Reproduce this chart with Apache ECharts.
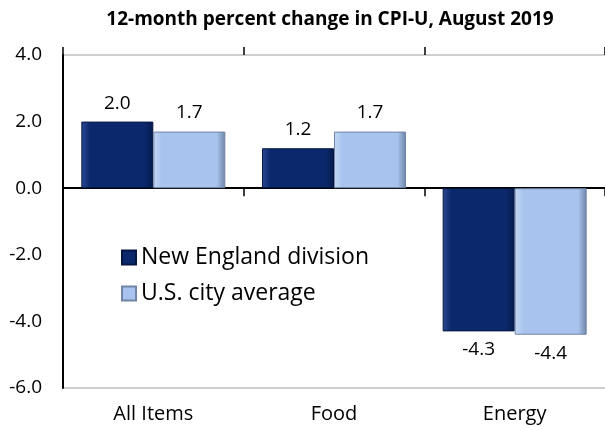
<!DOCTYPE html>
<html>

<head>
    <meta http-equiv="Content-Type" content="text/html; charset=utf-8">
    <title>CPI-U August 2019</title>
    <script src="https://cdn.jsdelivr.net/npm/echarts@6/dist/echarts.min.js"></script>
    <style>
        html, body { margin: 0; padding: 0; background: #fff; }
        #chart { width: 605px; height: 430px; }
    </style>
</head>

<body>
    <div id="chart"></div>
    <script>
    var categories = ["All Items", "Food", "Energy"];
    var seriesNames = ["New England division", "U.S. city average"];
    var newEngland = [2.0, 1.2, -4.3];
    var usAverage = [1.7, 1.7, -4.4];

    var font = "'Open Sans', sans-serif";

    function bevel(edge, mid, dark) {
        return new echarts.graphic.LinearGradient(0, 0, 1, 0, [
            { offset: 0, color: edge },
            { offset: 0.12, color: mid },
            { offset: 0.88, color: mid },
            { offset: 1, color: dark }
        ]);
    }

    function toData(arr) {
        return arr.map(function(v) {
            return { value: v, label: { position: v < 0 ? "bottom" : "top" } };
        });
    }

    function barSeries(name, arr, fill, border) {
        return {
            name: name,
            type: "bar",
            xAxisIndex: 0,
            barWidth: 72,
            barGap: "0%",
            data: toData(arr),
            itemStyle: { color: fill, borderColor: border, borderWidth: 1 },
            label: {
                show: true,
                distance: 9,
                color: "#000",
                fontFamily: font,
                fontSize: 19,
                formatter: function(p) { return p.value.toFixed(1) }
            }
        };
    }

    var chart = echarts.init(document.getElementById("chart"), null, { renderer: "canvas" });
    chart.setOption({
        animation: false,
        title: {
            text: "12-month percent change in CPI-U, August 2019",
            left: 325,
            top: 5,
            textAlign: "center",
            textStyle: { fontFamily: font, fontWeight: "bold", fontSize: 19, color: "#000" }
        },
        legend: {
            orient: "vertical",
            left: 116,
            top: 241,
            itemWidth: 14,
            itemHeight: 14,
            itemGap: 13,
            icon: "rect",
            data: seriesNames,
            textStyle: { fontFamily: font, fontSize: 23, color: "#000", padding: [0, 0, 0, 0] }
        },
        grid: { left: 63, right: -2, top: 55, bottom: 42 },
        xAxis: [{
                type: "category",
                data: categories,
                position: "bottom",
                axisLine: { show: false, onZero: false },
                axisTick: { show: false },
                axisLabel: { margin: 16, fontFamily: font, fontSize: 20, color: "#000" }
            },
            {
                type: "category",
                data: categories,
                position: "bottom",
                axisLine: { show: true, onZero: true, lineStyle: { color: "#000", width: 2 } },
                axisTick: { show: true, length: 8, lineStyle: { color: "#000", width: 1.5 } },
                axisLabel: { show: false }
            },
            {
                type: "category",
                data: categories,
                position: "top",
                axisLine: { show: false, onZero: true },
                axisTick: { show: true, length: 8, lineStyle: { color: "#000", width: 1.5 } },
                axisLabel: { show: false }
            }
        ],
        yAxis: {
            type: "value",
            min: -6,
            max: 4,
            interval: 2,
            axisLine: { show: true, lineStyle: { color: "#000", width: 2 } },
            axisTick: { show: false },
            splitLine: {
                show: true,
                lineStyle: { color: ["#cfcfcf", "transparent", "transparent", "transparent", "transparent", "#cfcfcf"], width: 2 }
            },
            axisLabel: {
                margin: 21,
                fontFamily: font,
                fontSize: 19,
                color: "#000",
                formatter: function(v) { return v.toFixed(1) }
            }
        },
        series: [
            barSeries(seriesNames[0], newEngland, bevel("#2a4a94", "#0b286c", "#061a4c"), "#051640"),
            barSeries(seriesNames[1], usAverage, bevel("#c4d8f6", "#a8c4ee", "#6f84a6"), "#6f84a6")
        ]
    });
    </script>
</body>

</html>
